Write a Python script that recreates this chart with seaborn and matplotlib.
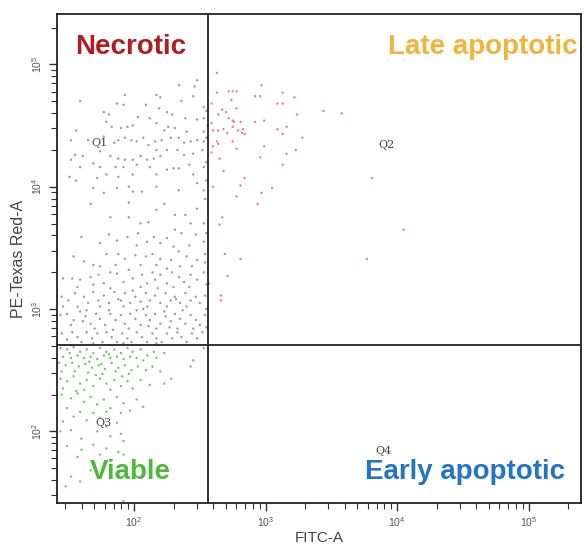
import numpy as np
import pandas as pd
import matplotlib
matplotlib.use("Agg")
import matplotlib.pyplot as plt
import seaborn as sns

# Events, as (log10 FITC-A, log10 PE-Texas Red-A)
necrotic_pts = [
    (2.34, 4.83), (2.46, 4.82), (2.48, 4.87), (1.93, 4.75), (2.17, 4.75), (2.20, 4.73), (2.45, 4.74),
    (2.36, 4.70), (1.87, 4.68), (1.59, 4.70), (1.92, 4.67), (2.09, 4.67), (2.53, 4.65), (1.77, 4.61),
    (1.81, 4.59), (2.19, 4.64), (2.25, 4.61), (2.29, 4.59), (2.03, 4.57), (2.12, 4.56), (2.39, 4.56),
    (2.48, 4.55), (2.53, 4.56), (1.56, 4.46), (1.79, 4.53), (1.83, 4.49), (1.90, 4.48), (1.95, 4.49),
    (1.99, 4.50), (2.17, 4.52), (2.23, 4.46), (2.26, 4.49), (2.31, 4.48), (2.40, 4.45), (2.53, 4.45),
    (2.55, 4.40), (2.07, 4.40), (2.02, 4.37), (1.98, 4.38), (1.93, 4.40), (1.88, 4.38), (1.85, 4.36),
    (1.77, 4.41), (1.65, 4.38), (1.52, 4.38), (2.11, 4.34), (2.16, 4.37), (2.21, 4.38), (2.28, 4.40),
    (2.34, 4.40), (2.38, 4.36), (2.43, 4.37), (2.48, 4.38), (2.53, 4.37), (2.17, 4.30), (2.25, 4.30),
    (2.33, 4.30), (2.38, 4.26), (2.45, 4.27), (2.52, 4.30), (1.61, 4.25), (1.55, 4.26), (1.52, 4.22),
    (1.74, 4.29), (1.82, 4.25), (1.88, 4.23), (1.93, 4.22), (1.99, 4.22), (2.05, 4.25), (2.10, 4.22),
    (2.15, 4.23), (2.20, 4.25), (1.59, 4.16), (1.69, 4.19), (1.74, 4.16), (1.86, 4.16), (1.92, 4.16),
    (2.02, 4.18), (2.12, 4.16), (2.25, 4.14), (2.30, 4.15), (2.34, 4.15), (2.42, 4.18), (2.45, 4.10),
    (2.53, 4.16), (1.72, 4.07), (1.79, 4.10), (1.88, 4.08), (1.99, 4.10), (2.17, 4.10), (1.69, 3.99),
    (1.77, 3.95), (1.87, 3.99), (1.96, 4.00), (1.99, 3.96), (2.06, 3.96), (2.17, 4.00), (2.34, 3.97),
    (2.48, 4.03), (2.53, 3.97), (1.56, 4.05), (1.51, 4.08),
    (2.55, 4.20), (2.55, 4.05), (2.54, 3.90), (2.55, 3.62), (2.54, 3.38), (2.55, 3.00), (2.55, 2.85),
    (2.56, 4.50), (2.55, 4.62),
    (1.67, 3.86), (1.96, 3.87), (2.23, 3.86), (2.17, 3.81), (2.31, 3.77), (2.39, 3.77), (2.48, 3.82),
    (2.53, 3.70), (1.82, 3.75), (1.96, 3.75), (2.05, 3.70), (2.11, 3.71), (2.43, 3.70),
    (1.60, 3.59), (1.81, 3.61), (1.95, 3.59), (2.03, 3.62), (2.15, 3.59), (2.25, 3.58), (2.31, 3.65),
    (2.36, 3.62), (2.47, 3.61), (1.74, 3.54), (1.87, 3.56), (2.02, 3.52), (2.10, 3.55), (2.20, 3.54),
    (2.30, 3.51), (2.42, 3.52), (2.53, 3.55),
    (1.54, 3.43), (1.69, 3.36), (1.79, 3.45), (1.88, 3.45), (1.93, 3.41), (2.01, 3.44), (2.09, 3.43),
    (2.14, 3.45), (2.20, 3.41), (2.28, 3.40), (2.34, 3.47), (2.40, 3.43), (2.48, 3.40), (2.54, 3.45),
    (1.62, 3.39), (1.74, 3.35), (1.86, 3.36), (2.05, 3.36), (2.17, 3.36), (2.25, 3.33), (2.35, 3.35),
    (2.44, 3.35),
    (1.46, 3.25), (1.53, 3.25), (1.59, 3.24), (1.67, 3.26), (1.73, 3.28), (1.77, 3.21), (1.82, 3.30),
    (1.87, 3.29), (1.92, 3.22), (1.96, 3.32), (1.99, 3.25), (2.06, 3.28), (2.10, 3.21), (2.14, 3.30),
    (2.16, 3.24), (2.20, 3.28), (2.25, 3.21), (2.29, 3.30), (2.34, 3.26), (2.38, 3.22), (2.43, 3.28),
    (2.48, 3.24), (2.53, 3.30), (2.55, 3.20), (1.57, 3.18), (1.69, 3.20), (1.82, 3.17), (2.05, 3.18),
    (2.30, 3.18), (2.42, 3.18),
    (1.45, 3.10), (1.50, 3.07), (1.55, 3.13), (1.62, 3.10), (1.65, 3.05), (1.69, 3.14), (1.73, 3.07),
    (1.77, 3.11), (1.81, 3.05), (1.85, 3.14), (1.90, 3.07), (1.93, 3.13), (1.97, 3.05), (2.01, 3.10),
    (2.05, 3.06), (2.09, 3.13), (2.12, 3.07), (2.16, 3.11), (2.20, 3.05), (2.24, 3.13), (2.28, 3.07),
    (2.31, 3.10), (2.35, 3.05), (2.39, 3.13), (2.43, 3.07), (2.47, 3.10), (2.50, 3.05), (2.54, 3.11),
    (1.46, 3.02), (1.57, 3.02), (1.74, 3.02), (1.92, 3.02), (2.10, 3.02), (2.25, 3.02), (2.40, 3.02),
    (1.44, 2.95), (1.49, 2.96), (1.54, 2.91), (1.59, 2.98), (1.63, 2.94), (1.67, 2.88), (1.71, 2.96),
    (1.74, 2.92), (1.78, 2.87), (1.82, 2.96), (1.86, 2.91), (1.90, 2.95), (1.93, 2.88), (1.97, 2.96),
    (2.01, 2.92), (2.05, 2.87), (2.09, 2.95), (2.12, 2.91), (2.16, 2.96), (2.20, 2.88), (2.24, 2.94),
    (2.28, 2.90), (2.31, 2.96), (2.35, 2.92), (2.39, 2.88), (2.43, 2.95), (2.47, 2.91), (2.50, 2.87),
    (2.54, 2.95), (1.52, 2.87), (1.64, 2.99), (1.81, 2.99), (2.02, 2.99), (2.17, 2.84), (2.33, 2.84),
    (1.45, 2.80), (1.49, 2.75), (1.53, 2.81), (1.57, 2.77), (1.60, 2.73), (1.64, 2.81), (1.68, 2.76),
    (1.72, 2.80), (1.76, 2.73), (1.79, 2.81), (1.83, 2.77), (1.87, 2.73), (1.91, 2.80), (1.95, 2.76),
    (1.98, 2.73), (2.02, 2.81), (2.06, 2.77), (2.10, 2.73), (2.14, 2.80), (2.17, 2.76), (2.21, 2.73),
    (2.25, 2.80), (2.29, 2.76), (2.33, 2.81), (2.36, 2.77), (2.40, 2.73), (2.44, 2.80), (2.48, 2.76),
    (2.52, 2.81), (1.69, 2.72), (1.92, 2.72), (2.17, 2.72),
    (1.88, 3.08), (2.07, 3.00), (2.23, 2.98), (1.70, 2.84), (1.96, 2.84), (2.11, 2.86), (2.37, 2.99),
    (1.61, 2.90), (1.84, 2.83), (2.27, 2.85), (2.45, 2.84), (1.99, 3.15), (2.18, 3.17), (2.32, 3.08),
]

late_pts = [
    (2.63, 4.93), (2.63, 4.77), (2.72, 4.78), (2.75, 4.78), (2.78, 4.78), (2.97, 4.83), (3.13, 4.77),
    (2.92, 4.74), (2.96, 4.74), (3.22, 4.73), (2.74, 4.71), (3.09, 4.68), (3.13, 4.68), (2.59, 4.68),
    (2.67, 4.63), (2.70, 4.61), (2.64, 4.59), (2.78, 4.64), (3.24, 4.59), (3.44, 4.62), (3.58, 4.60),
    (2.72, 4.56), (2.75, 4.54), (2.76, 4.53), (2.81, 4.53), (2.59, 4.52), (2.92, 4.53), (2.99, 4.54),
    (3.09, 4.47), (3.16, 4.49), (2.64, 4.46), (2.68, 4.47), (2.60, 4.46), (2.75, 4.49), (2.79, 4.46),
    (2.83, 4.47), (2.82, 4.44), (2.84, 4.43), (2.71, 4.44), (3.13, 4.43), (3.28, 4.40), (2.63, 4.37),
    (2.64, 4.35), (2.60, 4.33), (2.75, 4.37), (2.99, 4.33), (2.78, 4.31), (3.23, 4.30), (2.59, 4.28),
    (3.16, 4.27), (2.65, 4.23), (2.96, 4.24), (3.13, 4.18), (2.68, 4.13), (2.84, 4.07), (3.81, 4.07),
    (2.60, 4.00), (2.81, 4.01), (3.05, 3.99), (2.97, 3.95), (2.78, 3.92), (2.94, 3.86), (2.67, 3.75),
    (2.65, 3.69), (4.05, 3.65), (2.69, 3.45), (2.81, 3.41), (3.77, 3.41), (2.71, 3.27), (2.57, 3.21),
    (2.66, 3.11), (2.66, 3.07),
]

viable_pts = [
    (1.44, 2.68), (1.49, 2.67), (1.54, 2.69), (1.59, 2.65), (1.64, 2.67), (1.69, 2.64), (1.74, 2.68),
    (1.79, 2.65), (1.85, 2.67), (1.90, 2.64), (1.95, 2.68), (1.99, 2.65), (2.05, 2.67), (2.10, 2.62),
    (2.15, 2.65), (1.46, 2.61), (1.52, 2.60), (1.57, 2.62), (1.62, 2.60), (1.67, 2.61), (1.72, 2.59),
    (1.77, 2.62), (1.82, 2.60), (1.87, 2.61), (1.92, 2.59), (1.97, 2.61), (2.02, 2.60), (2.07, 2.58),
    (2.17, 2.60), (2.23, 2.64), (2.45, 2.58), (2.53, 2.68),
    (1.43, 2.56), (1.48, 2.54), (1.53, 2.56), (1.58, 2.53), (1.63, 2.55), (1.68, 2.52), (1.73, 2.54),
    (1.78, 2.51), (1.83, 2.56), (1.88, 2.52), (1.93, 2.54), (1.98, 2.50), (2.03, 2.53), (2.09, 2.50),
    (2.14, 2.53), (2.20, 2.49), (1.45, 2.49), (1.55, 2.49), (1.65, 2.48), (1.76, 2.47), (1.86, 2.49),
    (1.96, 2.47), (2.43, 2.53),
    (1.44, 2.43), (1.49, 2.41), (1.54, 2.45), (1.59, 2.39), (1.64, 2.42), (1.69, 2.37), (1.74, 2.43),
    (1.79, 2.39), (1.85, 2.42), (1.90, 2.37), (1.95, 2.41), (1.99, 2.35), (2.05, 2.42), (2.12, 2.38),
    (2.23, 2.39), (2.28, 2.43), (1.46, 2.35), (1.62, 2.34), (1.82, 2.34),
    (1.45, 2.30), (1.52, 2.27), (1.57, 2.31), (1.62, 2.24), (1.67, 2.28), (1.72, 2.22), (1.77, 2.26),
    (1.82, 2.19), (1.87, 2.28), (1.92, 2.23), (1.97, 2.17), (2.02, 2.26), (1.49, 2.19), (1.59, 2.16),
    (1.69, 2.15), (1.79, 2.16), (1.90, 2.15), (2.07, 2.20),
    (1.46, 2.08), (1.54, 2.12), (1.64, 2.09), (1.74, 2.11), (1.79, 2.04), (1.87, 2.07), (1.52, 2.01),
    (1.60, 1.94), (1.72, 2.00), (1.82, 1.96), (1.90, 1.98), (1.44, 2.00), (1.92, 1.92),
    (1.49, 1.88), (1.60, 1.85), (1.69, 1.89), (1.79, 1.86), (1.88, 1.83), (1.57, 1.79), (1.74, 1.81),
    (1.92, 1.81), (1.52, 1.63), (1.59, 1.59), (1.48, 1.55), (1.67, 1.68), (1.92, 1.43),
    (1.51, 2.64), (1.66, 2.57), (1.81, 2.63), (1.71, 2.46), (1.91, 2.45), (1.56, 2.33), (1.75, 2.55),
]

# quadrant gates (log10 units)
fitc_gate = 2.563
pe_gate = 2.706

quadrant_names = ["Q1", "Q2", "Q3", "Q4"]
quadrant_pos = [(1.74, 4.36), (3.92, 4.34), (1.77, 2.07), (3.90, 1.84)]

frames = []
for name, pts in [("necrotic", necrotic_pts), ("late", late_pts), ("viable", viable_pts)]:
    d = pd.DataFrame(pts, columns=["fitc", "pe"])
    d["gate"] = name
    frames.append(d)
df = pd.concat(frames, ignore_index=True)
df["FITC-A"] = 10 ** df["fitc"]
df["PE-Texas Red-A"] = 10 ** df["pe"]

sns.set_style("ticks")
plt.rcParams["font.family"] = ["Liberation Sans", "DejaVu Sans"]

fig = plt.figure(figsize=(5.84, 5.48), dpi=100)
ax = fig.add_axes([57 / 584, 1 - 503 / 548, 524 / 584, 489 / 548])

palette = {"necrotic": "#9c9c9c", "late": "#ea7f8a", "viable": "#72c766"}
sns.scatterplot(data=df, x="FITC-A", y="PE-Texas Red-A", hue="gate", palette=palette,
                s=3, linewidth=0, legend=False, ax=ax)

ax.set_xscale("log")
ax.set_yscale("log")
ax.set_xlim(10 ** 1.414, 10 ** 5.399)
ax.set_ylim(10 ** 1.414, 10 ** 5.412)

ax.axvline(10 ** fitc_gate, color="#222222", lw=1.3)
ax.axhline(10 ** pe_gate, color="#222222", lw=1.3)

for sp in ax.spines.values():
    sp.set_color("#222222")
    sp.set_linewidth(1.3)

ax.tick_params(which="major", length=6, width=1, color="#333333", labelsize=7.5, labelcolor="#555555")
ax.tick_params(which="minor", length=4, width=0.8, color="#333333")
ax.tick_params(axis="x", pad=3)
ax.tick_params(axis="y", pad=3)
for lbl in ax.get_yticklabels():
    lbl.set_rotation(90)
    lbl.set_va("center")

ax.set_xlabel("FITC-A", fontsize=11, color="#444444")
ax.set_ylabel("PE-Texas Red-A", fontsize=11.5, color="#444444")
ax.xaxis.set_label_coords(0.5, -0.058)
ax.yaxis.set_label_coords(-0.06, 0.5)

for name, (qx, qy) in zip(quadrant_names, quadrant_pos):
    ax.text(10 ** qx, 10 ** qy, name, fontsize=8, color="#444444", zorder=1,
            ha="center", va="center", family=["DejaVu Serif"])

big = dict(fontsize=20, fontweight="bold", transform=ax.transAxes, va="center", zorder=5)
ax.text(0.034, 0.933, "Necrotic", color="#b01c24", ha="left", **big)
ax.text(0.994, 0.933, "Late apoptotic", color="#f0b43c", ha="right", **big)
ax.text(0.063, 0.063, "Viable", color="#4fb83c", ha="left", **big)
ax.text(0.969, 0.063, "Early apoptotic", color="#2474c6", ha="right", **big)

fig.savefig("out.png", dpi=100)
